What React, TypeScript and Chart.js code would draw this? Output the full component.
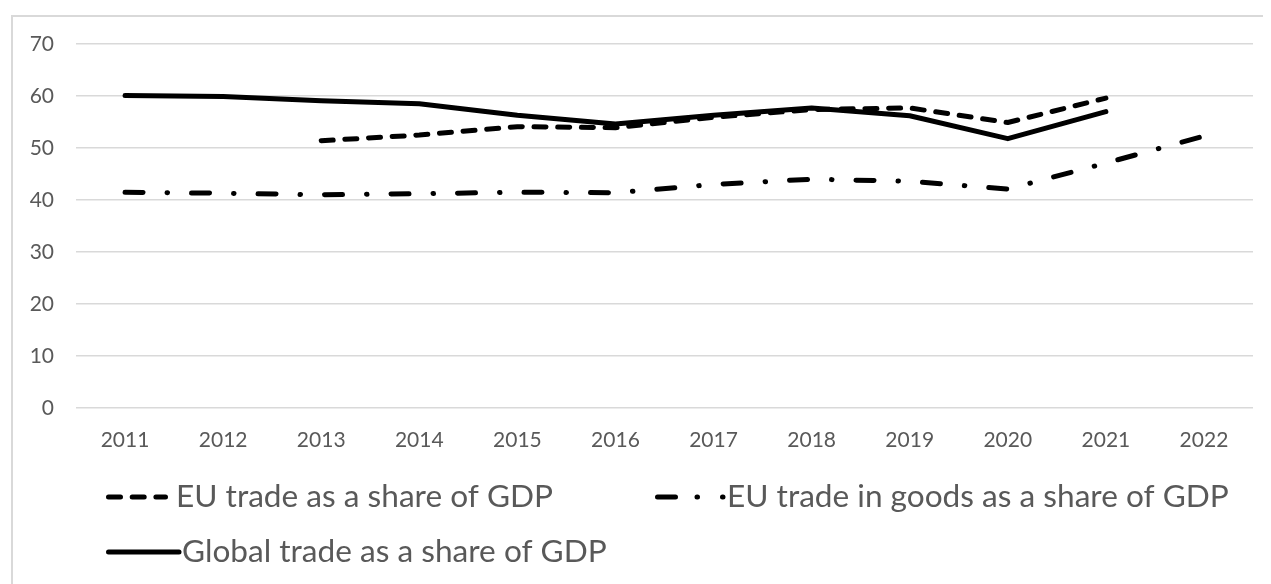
import React, { useEffect, useRef } from "react";
import { Chart, registerables } from "chart.js";

Chart.register(...registerables);

// ---- data ----
const years = ["2011", "2012", "2013", "2014", "2015", "2016", "2017", "2018", "2019", "2020", "2021", "2022"];
const euTradeShare = [null, null, 51.4, 52.5, 54.1, 53.9, 55.9, 57.4, 57.7, 54.9, 59.6, null];
const euGoodsShare = [41.5, 41.3, 41.0, 41.2, 41.5, 41.4, 43.0, 44.0, 43.6, 42.1, 47.1, 52.3];
const globalTradeShare = [60.1, 59.9, 59.1, 58.5, 56.3, 54.6, 56.3, 57.7, 56.2, 51.8, 57.0, null];
const seriesNames = [
  "EU trade as a share of GDP",
  "EU trade in goods as a share of GDP",
  "Global trade as a share of GDP",
];
const yMin = 0;
const yMax = 70;
const yStep = 10;

const FONT = "Lato, 'Open Sans', sans-serif";
const TEXT = "#595959";
const GRID = "#d9d9d9";

const legendPlugin = {
  id: "excelLegend",
  afterDraw(chart: any) {
    const { ctx, chartArea } = chart;
    const L = chartArea.left;
    const B = chartArea.bottom;
    ctx.save();
    ctx.strokeStyle = "#000";
    ctx.lineWidth = 5;
    ctx.lineCap = "round";
    ctx.font = `31.6px ${FONT}`;
    ctx.fillStyle = TEXT;
    ctx.textBaseline = "middle";
    ctx.textAlign = "left";

    const row1 = B + 89;
    const row2 = B + 144;

    // item 1: dashed
    ctx.setLineDash([12, 11.7]);
    ctx.beginPath();
    ctx.moveTo(L + 32.5, row1);
    ctx.lineTo(L + 89.5, row1);
    ctx.stroke();
    ctx.fillText(seriesNames[0], L + 100, row1);

    // item 2: long dash dot
    ctx.setLineDash([18, 21.5, 0.5, 25, 0.5, 200]);
    ctx.beginPath();
    ctx.moveTo(L + 581.5, row1);
    ctx.lineTo(L + 651, row1);
    ctx.stroke();
    ctx.fillText(seriesNames[1], L + 651, row1);

    // item 3: solid
    ctx.setLineDash([]);
    ctx.beginPath();
    ctx.moveTo(L + 32.5, row2);
    ctx.lineTo(L + 103, row2);
    ctx.stroke();
    ctx.fillText(seriesNames[2], L + 106, row2);
    ctx.restore();
  },
};

export default function App() {
  const ref = useRef<HTMLCanvasElement | null>(null);

  useEffect(() => {
    if (!ref.current) return;
    const common = {
      borderColor: "#000",
      backgroundColor: "#000",
      borderWidth: 5,
      pointRadius: 0,
      pointHoverRadius: 0,
      borderCapStyle: "round",
      borderJoinStyle: "round",
      tension: 0,
      fill: false,
      spanGaps: false,
    };
    const chart = new Chart(ref.current, {
      type: "line",
      data: {
        labels: years,
        datasets: [
          { ...common, label: seriesNames[0], data: euTradeShare, borderDash: [12, 11.7] },
          { ...common, label: seriesNames[1], data: euGoodsShare, borderDash: [18, 24, 0.5, 24] },
          { ...common, label: seriesNames[2], data: globalTradeShare },
        ],
      } as any,
      options: {
        animation: false,
        responsive: false,
        maintainAspectRatio: false,
        devicePixelRatio: 1,
        layout: { padding: { left: 0, right: 18, top: 36, bottom: 136 } },
        plugins: {
          legend: { display: false },
          tooltip: { enabled: false },
        },
        scales: {
          x: {
            offset: true,
            grid: { display: false, drawTicks: false },
            border: { display: false },
            ticks: { color: TEXT, font: { family: FONT, size: 21 }, padding: 20, maxRotation: 0, autoSkip: false },
            afterFit: (s: any) => {
              s.height = 40;
            },
          },
          y: {
            min: yMin,
            max: yMax,
            grid: { color: GRID, lineWidth: 1.5, drawTicks: false },
            border: { display: false },
            ticks: { stepSize: yStep, color: TEXT, font: { family: FONT, size: 21 }, padding: 22 },
            afterFit: (s: any) => {
              s.width = 68;
            },
          },
        },
      } as any,
      plugins: [legendPlugin],
    });
    return () => chart.destroy();
  }, []);

  return (
    <div style={{ position: "relative", width: 1263, height: 576, overflow: "hidden", background: "#fff" }}>
      <div
        style={{
          position: "absolute",
          left: 3,
          top: 7,
          width: 1400,
          height: 800,
          border: `2px solid ${GRID}`,
          boxSizing: "border-box",
        }}
      />
      <canvas ref={ref} width={1263} height={576} style={{ position: "absolute", left: 0, top: 0 }} />
    </div>
  );
}
